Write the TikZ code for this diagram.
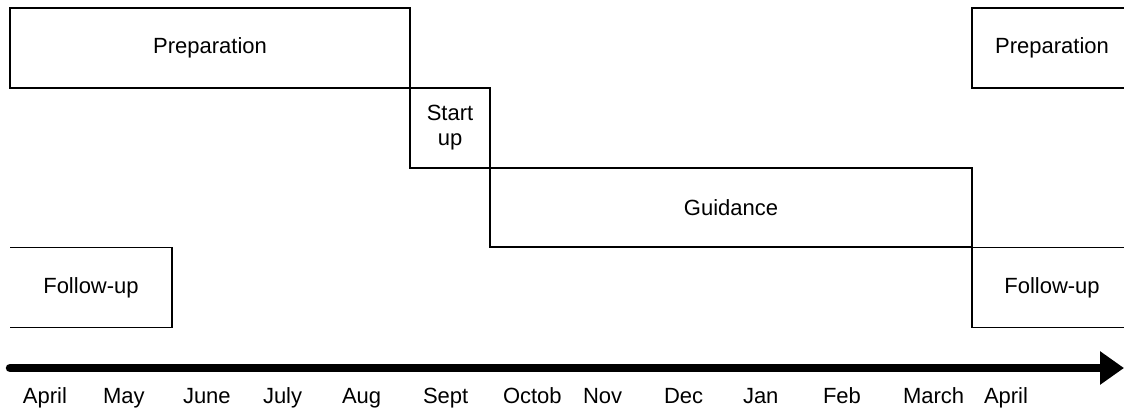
\documentclass[tikz,border=0pt]{standalone}
\usepackage{fontspec}
\setmainfont{Liberation Sans}
\usetikzlibrary{arrows.meta}
\begin{document}
\begin{tikzpicture}[x=0.5pt,y=-0.5pt,
  every node/.style={font=\fontsize{11}{12.5}\selectfont, inner sep=0pt, outer sep=0pt},
  boxline/.style={line width=0.75pt, line join=miter},
  phase/.style={draw, boxline, align=center},
  openphase/.style={align=center},
  month/.style={anchor=base west},
  axis/.style={line width=4.25pt, line cap=round, -{Triangle[length=12pt,width=16pt]}}]
\useasboundingbox (0,0) rectangle (1124,409);
% closed boxes
\node[phase, minimum width=200pt, minimum height=40pt] (prep1) at (210,48) {Preparation};
\node[phase, minimum width=40pt, minimum height=40pt] (start) at (450,128) {Start\\up};
\node[phase, minimum width=241pt, minimum height=39.5pt] (guid) at (731,207.5) {Guidance};
% open boxes
\node[openphase, minimum width=81pt, minimum height=40pt] (fu1) at (91,287.5) {Follow-up};
\node[openphase, minimum width=80pt, minimum height=40pt] (prep2) at (1052,48) {Preparation};
\node[openphase, minimum width=80pt, minimum height=40pt] (fu2) at (1052,287.5) {Follow-up};
\draw[boxline] (fu1.north west) -- (fu1.north east) -- (fu1.south east) -- (fu1.south west);
\draw[boxline] (prep2.north east) -- (prep2.north west) -- (prep2.south west) -- (prep2.south east);
\draw[boxline] (fu2.north east) -- (fu2.north west) -- (fu2.south west) -- (fu2.south east);
% time axis
\coordinate (tl) at (10,368);
\coordinate (tr) at (1124,368);
\draw[axis] (tl) -- (tr);
% months
\node[month] (m1) at (23,403) {April};
\node[month] (m2) at (103,403) {May};
\node[month] (m3) at (183,403) {June};
\node[month] (m4) at (263,403) {July};
\node[month] (m5) at (342,403) {Aug};
\node[month] (m6) at (423,403) {Sept};
\node[month] (m7) at (503,403) {Octob};
\node[month] (m8) at (583,403) {Nov};
\node[month] (m9) at (664,403) {Dec};
\node[month] (m10) at (743,403) {Jan};
\node[month] (m11) at (823,403) {Feb};
\node[month] (m12) at (903,403) {March};
\node[month] (m13) at (984,403) {April};
\end{tikzpicture}
\end{document}
